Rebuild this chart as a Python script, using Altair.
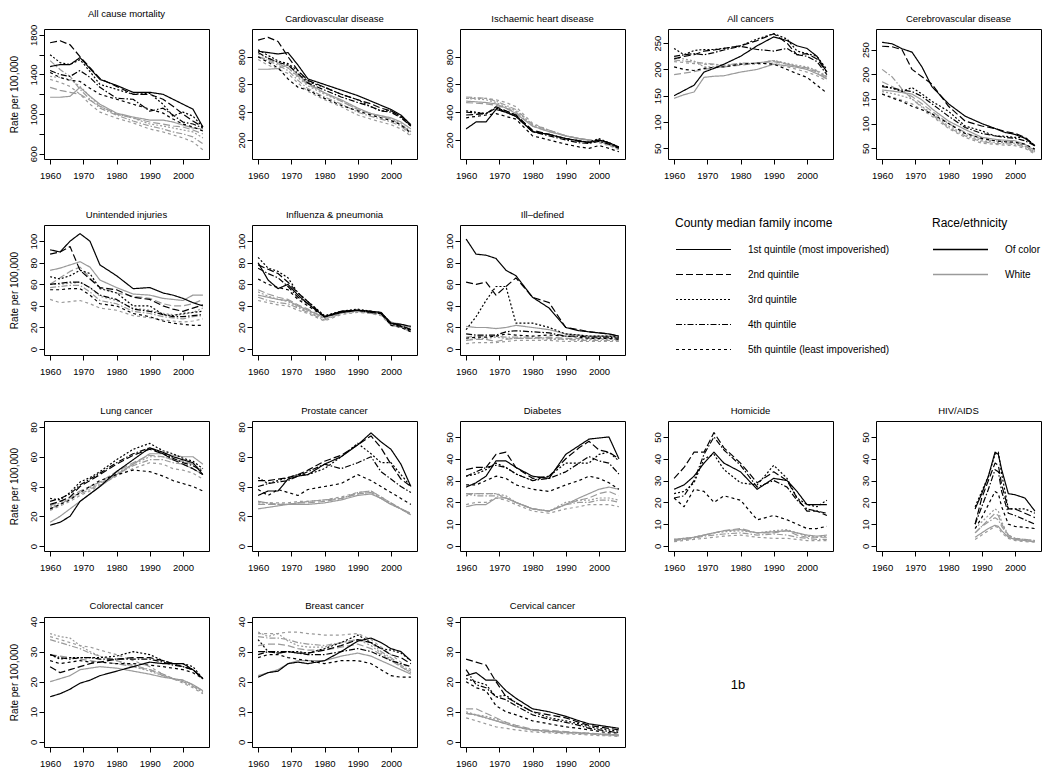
import altair as alt
import pandas as pd

# ---------------- data ----------------
YEARS = [1960, 1963, 1966, 1969, 1972, 1975, 1980, 1985, 1990, 1994, 1997, 2000, 2003, 2006]
HIV_YEARS = [1988, 1990, 1992, 1994, 1995, 1996, 1998, 2000, 2003, 2006]
QUINTILES = ["1st quintile (most impoverished)", "2nd quintile", "3rd quintile",
             "4th quintile", "5th quintile (least impoverished)"]
RACES = ["Of color", "White"]
X_TICKS = [1960, 1970, 1980, 1990, 2000]

ALLCAUSE_COLOR = [
    [1480, 1500, 1500, 1570, 1460, 1350, 1290, 1220, 1220, 1200, 1150, 1100, 1050, 870],
    [1720, 1740, 1700, 1580, 1470, 1360, 1280, 1200, 1200, 1150, 1080, 1000, 930, 870],
    [1600, 1520, 1500, 1550, 1430, 1300, 1250, 1200, 1210, 1100, 980, 1020, 980, 870],
    [1440, 1400, 1380, 1440, 1370, 1270, 1160, 1150, 1030, 1060, 990, 920, 900, 860],
    [1420, 1370, 1340, 1330, 1260, 1200, 1150, 1100, 1050, 1010, 950, 900, 870, 830]]
ALLCAUSE_WHITE = [
    [1170, 1170, 1180, 1270, 1180, 1100, 1010, 970, 940, 940, 920, 890, 860, 850],
    [1270, 1240, 1220, 1200, 1140, 1080, 1000, 960, 920, 900, 880, 870, 840, 800],
    [1380, 1370, 1350, 1280, 1180, 1080, 1000, 960, 900, 880, 860, 840, 820, 760],
    [1540, 1450, 1380, 1250, 1150, 1060, 990, 930, 880, 850, 820, 800, 770, 700],
    [1350, 1320, 1280, 1200, 1100, 1020, 960, 910, 850, 820, 790, 760, 720, 640]]

CVD_COLOR = [
    [840, 830, 820, 830, 740, 640, 600, 560, 520, 480, 450, 420, 380, 310],
    [920, 940, 910, 800, 700, 630, 580, 530, 490, 460, 430, 410, 370, 300],
    [850, 810, 770, 750, 700, 620, 580, 530, 490, 440, 410, 410, 370, 300],
    [830, 790, 760, 740, 680, 610, 560, 510, 470, 440, 410, 400, 360, 300],
    [800, 760, 720, 640, 580, 560, 500, 450, 410, 380, 360, 340, 310, 250]]
CVD_WHITE = [
    [710, 710, 715, 740, 670, 610, 540, 490, 430, 390, 375, 360, 330, 280],
    [800, 780, 750, 720, 660, 600, 540, 480, 420, 390, 370, 350, 310, 260],
    [820, 790, 760, 720, 650, 590, 530, 480, 420, 390, 370, 350, 320, 260],
    [800, 770, 740, 700, 630, 570, 510, 460, 400, 370, 350, 330, 300, 240],
    [780, 740, 710, 680, 610, 550, 490, 440, 380, 350, 330, 310, 280, 230]]

IHD_COLOR = [
    [280, 330, 330, 420, 400, 370, 260, 240, 210, 195, 180, 200, 180, 150],
    [380, 385, 390, 440, 410, 380, 270, 240, 210, 190, 185, 200, 180, 145],
    [410, 400, 390, 430, 410, 380, 260, 240, 210, 195, 185, 210, 180, 150],
    [400, 395, 390, 430, 400, 370, 260, 230, 200, 180, 175, 190, 170, 140],
    [360, 370, 380, 390, 370, 350, 230, 200, 170, 150, 140, 160, 140, 115]]
IHD_WHITE = [
    [480, 475, 470, 460, 430, 390, 300, 260, 230, 210, 200, 190, 170, 140],
    [470, 465, 460, 450, 430, 400, 300, 260, 230, 210, 200, 190, 170, 140],
    [500, 495, 490, 470, 440, 410, 310, 270, 230, 210, 200, 190, 170, 140],
    [510, 505, 500, 480, 450, 420, 310, 270, 230, 210, 200, 190, 165, 135],
    [500, 500, 500, 490, 470, 440, 320, 270, 230, 210, 195, 180, 160, 130]]

CANCER_COLOR = [
    [150, 160, 170, 195, 202, 210, 225, 245, 262, 255, 245, 240, 225, 195],
    [220, 225, 228, 235, 237, 240, 245, 255, 268, 250, 228, 230, 220, 195],
    [240, 228, 236, 238, 238, 240, 245, 258, 268, 258, 235, 230, 225, 200],
    [225, 228, 230, 228, 232, 237, 244, 238, 235, 240, 228, 225, 215, 190],
    [205, 200, 198, 202, 204, 205, 210, 212, 210, 200, 192, 185, 170, 155]]
CANCER_WHITE = [
    [145, 152, 157, 185, 187, 188, 195, 200, 210, 207, 204, 200, 192, 182],
    [190, 193, 196, 200, 203, 205, 208, 212, 215, 210, 206, 203, 197, 185],
    [222, 220, 216, 205, 205, 205, 210, 212, 217, 212, 208, 205, 198, 187],
    [218, 216, 214, 212, 210, 208, 212, 212, 217, 210, 206, 202, 195, 182],
    [215, 213, 211, 210, 209, 208, 210, 210, 212, 205, 200, 195, 188, 178]]

STROKE_COLOR = [
    [265, 262, 252, 245, 215, 175, 140, 115, 100, 90, 82, 78, 70, 55],
    [257, 256, 250, 210, 195, 180, 135, 105, 95, 90, 84, 80, 72, 55],
    [177, 172, 165, 173, 160, 145, 125, 95, 85, 75, 74, 72, 72, 55],
    [175, 172, 168, 165, 155, 140, 115, 92, 80, 75, 72, 70, 65, 55],
    [160, 152, 145, 135, 128, 120, 100, 80, 70, 65, 63, 62, 58, 48]]
STROKE_WHITE = [
    [168, 166, 163, 160, 148, 130, 105, 88, 72, 68, 66, 65, 58, 45],
    [185, 175, 165, 155, 140, 125, 100, 82, 68, 65, 63, 62, 55, 42],
    [165, 161, 156, 150, 135, 120, 95, 78, 65, 62, 61, 60, 54, 42],
    [210, 195, 170, 150, 133, 118, 92, 75, 63, 60, 59, 58, 52, 40],
    [160, 154, 147, 140, 128, 115, 90, 72, 60, 58, 56, 55, 50, 38]]

INJURY_COLOR = [
    [92, 90, 100, 107, 100, 78, 68, 56, 57, 52, 50, 47, 43, 40],
    [88, 90, 95, 73, 65, 57, 55, 48, 46, 40, 37, 35, 38, 41],
    [67, 65, 68, 73, 70, 56, 52, 40, 40, 32, 31, 33, 34, 35],
    [60, 61, 62, 62, 57, 50, 46, 37, 35, 32, 30, 30, 31, 32],
    [55, 55, 56, 56, 50, 42, 40, 33, 30, 26, 24, 23, 22, 22]]
INJURY_WHITE = [
    [73, 75, 78, 81, 76, 64, 57, 51, 50, 47, 46, 45, 50, 50],
    [60, 66, 72, 76, 66, 57, 52, 49, 47, 42, 40, 40, 42, 46],
    [60, 60, 61, 62, 57, 49, 45, 38, 36, 33, 32, 32, 34, 38],
    [57, 58, 59, 59, 53, 45, 42, 35, 33, 30, 29, 28, 30, 31],
    [46, 43, 44, 45, 42, 38, 36, 31, 29, 27, 26, 25, 26, 28]]

FLU_COLOR = [
    [80, 64, 56, 60, 50, 42, 30, 34, 36, 35, 34, 24, 23, 21],
    [78, 74, 70, 62, 52, 44, 30, 35, 36, 35, 33, 24, 22, 18],
    [85, 75, 72, 66, 52, 44, 31, 35, 37, 35, 34, 24, 21, 17],
    [75, 70, 66, 58, 48, 42, 30, 35, 36, 34, 33, 23, 21, 18],
    [65, 60, 57, 55, 46, 40, 30, 34, 36, 34, 33, 22, 20, 16]]
FLU_WHITE = [
    [50, 48, 46, 45, 40, 36, 29, 34, 36, 34, 33, 25, 23, 20],
    [55, 51, 48, 46, 41, 37, 29, 34, 36, 34, 33, 24, 22, 18],
    [53, 49, 46, 44, 39, 35, 28, 33, 35, 34, 32, 23, 21, 17],
    [48, 45, 43, 42, 38, 34, 27, 33, 35, 33, 32, 23, 21, 17],
    [45, 43, 41, 40, 36, 33, 26, 32, 34, 33, 31, 22, 20, 16]]

ILLDEF_COLOR = [
    [102, 88, 87, 84, 73, 68, 48, 38, 20, 17, 16, 15, 14, 12],
    [62, 60, 62, 50, 58, 66, 48, 43, 20, 18, 16, 15, 14, 12],
    [18, 30, 45, 58, 58, 24, 24, 20, 14, 13, 12, 12, 12, 11],
    [14, 13, 13, 13, 16, 17, 16, 15, 12, 12, 11, 11, 11, 10],
    [10, 11, 11, 12, 14, 13, 12, 13, 12, 11, 10, 10, 10, 9]]
ILLDEF_WHITE = [
    [21, 20, 20, 19, 20, 22, 20, 18, 14, 13, 12, 12, 12, 11],
    [8, 9, 9, 7, 9, 10, 10, 11, 10, 10, 10, 10, 10, 9],
    [8, 10, 10, 11, 10, 10, 10, 9, 9, 9, 9, 9, 9, 9],
    [11, 12, 12, 12, 11, 11, 11, 10, 9, 8, 8, 8, 8, 8],
    [5, 6, 6, 6, 7, 8, 8, 8, 7, 7, 7, 7, 7, 7]]

LUNG_COLOR = [
    [14, 16, 20, 30, 35, 40, 50, 58, 66, 63, 60, 58, 56, 48],
    [28, 30, 33, 40, 44, 48, 55, 61, 65, 62, 58, 55, 52, 48],
    [32, 31, 36, 43, 46, 50, 58, 65, 69, 64, 62, 59, 57, 52],
    [30, 32, 35, 41, 45, 49, 56, 62, 66, 62, 59, 56, 54, 50],
    [25, 28, 31, 36, 40, 44, 48, 51, 50, 47, 44, 42, 40, 37]]
LUNG_WHITE = [
    [16, 20, 25, 30, 35, 40, 48, 55, 62, 62, 61, 60, 60, 55],
    [27, 30, 33, 37, 40, 43, 50, 56, 61, 60, 58, 57, 55, 50],
    [26, 29, 32, 36, 39, 43, 49, 55, 60, 60, 58, 57, 55, 51],
    [25, 28, 32, 35, 38, 42, 48, 54, 58, 58, 56, 55, 52, 48],
    [24, 27, 30, 34, 37, 41, 47, 52, 56, 55, 52, 51, 49, 45]]

PROSTATE_COLOR = [
    [34, 37, 37, 45, 47, 48, 55, 60, 68, 76, 70, 65, 55, 40],
    [44, 44, 45, 46, 48, 51, 57, 61, 68, 74, 66, 55, 45, 40],
    [46, 42, 44, 46, 48, 48, 52, 60, 69, 62, 56, 56, 48, 40],
    [40, 42, 43, 44, 47, 50, 55, 52, 56, 60, 50, 45, 40, 36],
    [38, 34, 38, 36, 34, 38, 40, 42, 48, 44, 40, 36, 32, 28]]
PROSTATE_WHITE = [
    [25, 26, 27, 28, 28, 28, 29, 31, 34, 35, 32, 28, 25, 21],
    [28, 28, 28, 28, 29, 29, 30, 32, 35, 36, 32, 28, 25, 22],
    [29, 29, 28, 28, 29, 30, 31, 32, 35, 36, 32, 29, 25, 22],
    [30, 29, 28, 28, 29, 30, 31, 32, 36, 37, 33, 29, 25, 21],
    [30, 29, 29, 29, 30, 30, 31, 33, 36, 37, 33, 29, 25, 21]]

DIABETES_COLOR = [
    [27, 29, 32, 39, 39, 36, 32, 31, 42, 46, 49, 49.5, 50, 40],
    [35, 36, 36, 42, 43, 36, 31, 32, 40, 45, 48, 44, 43, 40],
    [32, 33, 35, 38, 36, 33, 30, 32, 38, 38, 38, 42, 43, 39],
    [32, 34, 36, 37, 36, 33, 30, 31, 34, 38, 41, 39, 38, 33],
    [28, 28, 30, 32, 31, 28, 26, 25, 28, 30, 32, 31, 29, 26]]
DIABETES_WHITE = [
    [18, 19, 19, 22, 22, 20, 17, 16, 19, 22, 24, 26, 27, 26],
    [24, 24, 24, 24, 22, 20, 17, 16, 19, 21, 22, 24, 25, 23],
    [23, 24, 24, 24, 23, 20, 17, 16, 20, 21, 21, 22, 22, 21],
    [24, 23, 23, 23, 22, 20, 17, 16, 19, 20, 20, 21, 21, 20],
    [19, 20, 20, 22, 21, 19, 16, 15, 17, 18, 19, 19, 19, 18]]

HOMICIDE_COLOR = [
    [26, 28, 32, 38, 43, 38, 34, 26, 31, 30, 25, 19, 19, 19],
    [31, 36, 43, 43, 52, 45, 38, 29, 34, 30, 22, 16, 16, 14],
    [24, 25, 29, 40, 42, 35, 29, 28, 37, 31, 22, 19, 18, 21],
    [22, 23, 30, 42, 50, 44, 37, 27, 30, 27, 21, 17, 16, 15],
    [22, 18, 26, 25, 20, 23, 21, 12, 14, 12, 10, 8, 8, 9]]
HOMICIDE_WHITE = [
    [3, 3.5, 4, 5, 6, 7, 7.5, 6, 6.5, 7, 6, 5, 4.5, 5],
    [3, 3, 4, 5, 6, 7, 8, 6, 6, 7, 5, 4, 4, 4],
    [3, 3.5, 4, 5, 6, 6.5, 7, 6, 7, 7.5, 6, 4.5, 4, 4.5],
    [2.5, 3, 3.5, 4.5, 5, 5.5, 6, 5, 5.5, 5, 4, 3.5, 3, 3],
    [2, 2.5, 3, 3.5, 4, 4.5, 5, 4, 3.5, 3.5, 3, 2.5, 2.5, 2.5]]

HIV_COLOR = [
    [17, 24, 32, 43, 42, 35, 24, 23.5, 22, 16],
    [10, 22, 30, 38, 37, 28, 17, 17, 15, 13],
    [18, 25, 32, 42, 43, 33, 17, 17, 17, 15],
    [10, 18, 26, 35, 34, 25, 15, 14, 12, 10],
    [8, 13, 19, 25, 24, 18, 10, 9, 8.5, 8]]
HIV_WHITE = [
    [4, 6, 8, 9.5, 9, 7, 4, 3, 2.5, 2],
    [6, 9, 12, 15, 14, 10, 5, 3.5, 3, 2.5],
    [8, 11, 14, 17, 16, 11, 5, 3.5, 3, 2.5],
    [6, 9, 11, 13, 12, 9, 4.5, 3, 2.5, 2],
    [3, 5, 7, 9, 8.5, 6, 3.5, 2.5, 2, 1.8]]

COLORECTAL_COLOR = [
    [15, 16, 17.5, 19.5, 20.5, 22, 23.5, 25, 26.5, 26, 26, 26, 24, 21],
    [25, 23, 24, 25, 26, 26.5, 27.5, 28, 28, 27, 26, 25, 24, 21],
    [29, 27.5, 28, 28, 28, 28, 28.5, 30, 29, 27, 26, 26, 25, 21],
    [29, 28, 27.5, 28, 28, 27.5, 27.5, 27.5, 27.5, 26.5, 25.5, 25, 24, 21],
    [27, 26, 26.5, 27, 26.5, 26.5, 26, 26, 25.5, 25, 24.5, 24, 23, 21]]
COLORECTAL_WHITE = [
    [20, 21, 22, 24, 24.5, 25, 24.5, 23.5, 22.5, 21.5, 21, 20.5, 19, 17],
    [29, 28.5, 28, 27.5, 27, 26.5, 26, 25, 24, 22.5, 21, 20.5, 19, 17],
    [36, 35, 34.5, 32, 30, 28.5, 27, 25, 23.5, 22, 21, 20, 18.5, 16.5],
    [34, 33, 32, 31, 29.5, 28.5, 27, 25.5, 24, 22, 21, 20, 18.5, 16.5],
    [35, 34, 33, 32, 31.5, 30.5, 29, 27, 25, 22.5, 21, 19.5, 18, 16]]

BREAST_COLOR = [
    [21.5, 23, 23.5, 26, 26.5, 26, 27, 30, 33.5, 34.5, 33, 31, 30, 27],
    [30, 30, 29.5, 30, 29.5, 29.5, 30.5, 32, 34, 33, 31, 29, 28, 26],
    [34, 30, 29.5, 30, 30, 29.5, 31, 33, 35.5, 33, 31, 30.5, 29.5, 27],
    [29, 30, 30, 30, 29.5, 29, 29, 30, 31, 30, 28.5, 27, 26, 25],
    [28, 29, 29, 28, 27.5, 27, 26, 27, 27, 26, 24, 22, 21.5, 21.5]]
BREAST_WHITE = [
    [22, 23, 24, 26, 27, 27, 27, 28.5, 29.5, 28.5, 27, 25.5, 24, 22.5],
    [32, 32.5, 32.5, 32, 31, 30.5, 30.5, 31.5, 32.5, 31, 29, 27, 25, 23],
    [36.5, 35, 36, 33.5, 32, 31.5, 31.5, 33, 34, 32, 29.5, 27.5, 25, 23],
    [35, 34.5, 34.5, 34, 33, 32.5, 32, 33, 34, 33, 30, 28, 25.5, 23.5],
    [36, 36, 36, 36.5, 36.5, 36, 35.5, 35.5, 36, 34, 31.5, 29, 26.5, 24]]

CERVICAL_COLOR = [
    [22, 23, 20.5, 20.5, 17, 14.5, 11, 10, 8.5, 7, 6, 5.5, 5, 4.5],
    [27.5, 26.5, 25.5, 20, 15, 13, 10, 9, 8, 6.5, 5.5, 5, 4.5, 4],
    [21, 20, 19, 15, 15.5, 13, 10, 8, 7, 6, 5, 4.5, 4, 3.5],
    [24, 19, 18, 15, 14, 12, 9, 7.5, 6.5, 5.5, 4.5, 4, 3.5, 3],
    [20, 18, 17, 12, 10, 9, 7, 6, 5, 4.5, 4, 3.5, 3, 3]]
CERVICAL_WHITE = [
    [9.5, 9, 8, 7, 6, 5, 4, 3.5, 3.2, 3, 2.8, 2.6, 2.4, 2.2],
    [11, 11, 9.5, 8, 6.5, 5.5, 4.2, 3.8, 3.4, 3.1, 2.9, 2.7, 2.5, 2.3],
    [10, 9, 8.5, 7.5, 6.5, 5.2, 4, 3.5, 3.2, 3, 2.8, 2.6, 2.4, 2.2],
    [9.5, 8.8, 8, 7, 6, 5, 3.8, 3.3, 3, 2.8, 2.6, 2.4, 2.2, 2],
    [8, 7, 6, 5, 4.5, 4, 3.3, 3, 2.7, 2.5, 2.3, 2.1, 2, 1.8]]

FIGURE_LABEL = ["1b"]

# ---------------- style / layout ----------------
FONT = "Liberation Sans"
W, H = 165, 130
HSPACE, VSPACE = 43, 66
X_DOMAIN = [1958.16, 2007.84]
DASHES = [[1, 0], [7, 3], [2, 2], [6, 2, 1.5, 2], [3, 3]]
WIDTHS = [1.2, 1.2, 2.2, 1.2, 1.2]

LEG_Y = (H + VSPACE) - 7
dash_legend = alt.Legend(
    title="County median family income", orient="none",
    legendX=3 * (W + HSPACE) + 7, legendY=LEG_Y,
    symbolType="stroke", symbolSize=3025, symbolStrokeWidth=1.4,
    symbolStrokeColor="black", clipHeight=23, rowPadding=2,
    labelOffset=16, titlePadding=8, labelFontSize=10, titleFontSize=12,
    titleFontWeight="normal", labelLimit=400, labelFont=FONT, titleFont=FONT,
    labelColor="black", titleColor="black")
color_legend = alt.Legend(
    title="Race/ethnicity", orient="none",
    legendX=4 * (W + HSPACE) + 56, legendY=LEG_Y,
    symbolType="stroke", symbolSize=3025, symbolStrokeWidth=1.4,
    clipHeight=23, rowPadding=2,
    labelOffset=16, titlePadding=8, labelFontSize=10, titleFontSize=12,
    titleFontWeight="normal", labelLimit=400, labelFont=FONT, titleFont=FONT,
    labelColor="black", titleColor="black")


def frame(years, of_color, white):
    rows = []
    for race, block in (("White", white), ("Of color", of_color)):
        for q, series in zip(QUINTILES, block):
            for yr, v in zip(years, series):
                rows.append({"year": yr, "rate": v, "quintile": q, "race": race})
    return pd.DataFrame(rows)


def panel(title, years, of_color, white, ydom, yticks, ytitle=False, label_expr=None):
    yaxis = dict(values=yticks, format="d", labelAngle=270, labelAlign="center",
                 labelBaseline="bottom", labelPadding=1, labelOverlap=False,
                 title=None)
    if ytitle:
        yaxis["title"] = "Rate per 100,000"
    if label_expr:
        yaxis["labelExpr"] = label_expr
    return alt.Chart(frame(years, of_color, white)).mark_line(
        strokeCap="butt", strokeJoin="round"
    ).encode(
        x=alt.X("year:Q", scale=alt.Scale(domain=X_DOMAIN, nice=False, zero=False),
                axis=alt.Axis(values=X_TICKS, format="d", title=None,
                              labelPadding=6, labelFlush=False)),
        y=alt.Y("rate:Q", scale=alt.Scale(domain=ydom, nice=False, zero=False),
                axis=alt.Axis(**yaxis)),
        color=alt.Color("race:N", scale=alt.Scale(domain=RACES, range=["#000000", "#9a9a9a"]),
                        legend=color_legend),
        strokeDash=alt.StrokeDash("quintile:N", scale=alt.Scale(domain=QUINTILES, range=DASHES),
                                  legend=dash_legend),
        strokeWidth=alt.StrokeWidth("quintile:N", scale=alt.Scale(domain=QUINTILES, range=WIDTHS),
                                    legend=None),
    ).properties(width=W, height=H, title=title)


def blank(text_values):
    return alt.Chart(pd.DataFrame({"t": text_values})).mark_text(
        font=FONT, fontSize=13, color="black"
    ).encode(
        text="t:N", x=alt.value(70), y=alt.value(68)
    ).properties(width=W, height=H, view=alt.ViewBackground(stroke="transparent"))


T_ROW2 = [0, 20, 40, 60, 80, 100]
T_ROW3A = [0, 20, 40, 60, 80]
T_ROW3B = [0, 10, 20, 30, 40, 50]
T_ROW4 = [0, 10, 20, 30, 40]

panels = [
    panel("All cause mortality", YEARS, ALLCAUSE_COLOR, ALLCAUSE_WHITE, [547, 1859],
          [600, 800, 1000, 1200, 1400, 1600, 1800], True,
          "datum.value % 400 == 200 ? datum.label : ''"),
    panel("Cardiovascular disease", YEARS, CVD_COLOR, CVD_WHITE, [63, 1000], [200, 400, 600, 800]),
    panel("Ischaemic heart disease", YEARS, IHD_COLOR, IHD_WHITE, [63, 1000], [200, 400, 600, 800]),
    panel("All cancers", YEARS, CANCER_COLOR, CANCER_WHITE, [29.5, 277], [50, 100, 150, 200, 250]),
    panel("Cerebrovascular disease", YEARS, STROKE_COLOR, STROKE_WHITE, [28, 292], [50, 100, 150, 200, 250]),
    panel("Unintended injuries", YEARS, INJURY_COLOR, INJURY_WHITE, [-5.5, 115], T_ROW2, True),
    panel("Influenza & pneumonia", YEARS, FLU_COLOR, FLU_WHITE, [-5.5, 115], T_ROW2),
    panel("Ill\u2013defined", YEARS, ILLDEF_COLOR, ILLDEF_WHITE, [-5.5, 115], T_ROW2),
    blank([""]),
    blank([""]),
    panel("Lung cancer", YEARS, LUNG_COLOR, LUNG_WHITE, [-3.3, 84], T_ROW3A, True),
    panel("Prostate cancer", YEARS, PROSTATE_COLOR, PROSTATE_WHITE, [-3.3, 84], T_ROW3A),
    panel("Diabetes", YEARS, DIABETES_COLOR, DIABETES_WHITE, [-2.3, 57.3], T_ROW3B),
    panel("Homicide", YEARS, HOMICIDE_COLOR, HOMICIDE_WHITE, [-2.3, 57.3], T_ROW3B),
    panel("HIV/AIDS", HIV_YEARS, HIV_COLOR, HIV_WHITE, [-2.3, 57.3], T_ROW3B),
    panel("Colorectal cancer", YEARS, COLORECTAL_COLOR, COLORECTAL_WHITE, [-1.7, 41.5], T_ROW4, True),
    panel("Breast cancer", YEARS, BREAST_COLOR, BREAST_WHITE, [-1.7, 41.5], T_ROW4),
    panel("Cervical cancer", YEARS, CERVICAL_COLOR, CERVICAL_WHITE, [-1.7, 41.5], T_ROW4),
    blank(FIGURE_LABEL),
]

chart = alt.concat(
    *panels, columns=5, spacing={"row": VSPACE, "column": HSPACE}, bounds="flush"
).properties(
    padding=0, background="white"
).configure_view(
    stroke="black", strokeWidth=1
).configure_axis(
    grid=False, domain=False, tickColor="black", tickSize=5, tickWidth=1,
    labelFont=FONT, labelFontSize=9.5, labelColor="black",
    titleFont=FONT, titleFontSize=10, titleFontWeight="normal", titleColor="black",
    titlePadding=9
).configure_title(
    font=FONT, fontSize=9.5, fontWeight="normal", color="black", anchor="middle",
    baseline="bottom", offset=6
)

chart.save("out.html", embed_options={"renderer": "svg", "actions": False})
